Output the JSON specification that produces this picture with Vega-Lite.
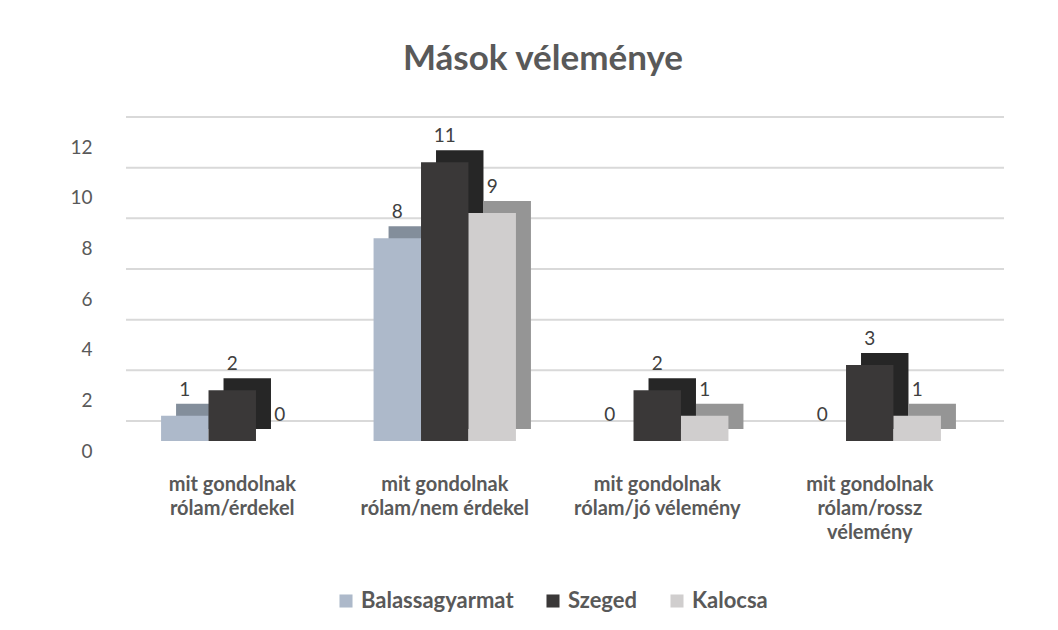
{
  "$schema": "https://vega.github.io/schema/vega-lite/v6.json",
  "width": 850,
  "height": 304,
  "padding": {"left": 69, "top": 42, "right": 10, "bottom": 10},
  "background": "white",
  "title": {
    "text": "Mások véleménye",
    "fontSize": 35,
    "font": "Lato",
    "fontWeight": "bold",
    "color": "#595959",
    "offset": 39,
    "anchor": "middle",
    "dx": -8
  },
  "config": {
    "view": {"stroke": null},
    "font": "Lato",
    "legend": {"layout": {"bottom": {"anchor": "middle"}}}
  },
  "datasets": {
    "bars": [
      {"category": "mit gondolnak|rólam/érdekel", "series": "Balassagyarmat", "value": 1},
      {"category": "mit gondolnak|rólam/érdekel", "series": "Szeged", "value": 2},
      {"category": "mit gondolnak|rólam/érdekel", "series": "Kalocsa", "value": 0},
      {"category": "mit gondolnak|rólam/nem érdekel", "series": "Balassagyarmat", "value": 8},
      {"category": "mit gondolnak|rólam/nem érdekel", "series": "Szeged", "value": 11},
      {"category": "mit gondolnak|rólam/nem érdekel", "series": "Kalocsa", "value": 9},
      {"category": "mit gondolnak|rólam/jó vélemény", "series": "Balassagyarmat", "value": 0},
      {"category": "mit gondolnak|rólam/jó vélemény", "series": "Szeged", "value": 2},
      {"category": "mit gondolnak|rólam/jó vélemény", "series": "Kalocsa", "value": 1},
      {"category": "mit gondolnak|rólam/rossz|vélemény", "series": "Balassagyarmat", "value": 0},
      {"category": "mit gondolnak|rólam/rossz|vélemény", "series": "Szeged", "value": 3},
      {"category": "mit gondolnak|rólam/rossz|vélemény", "series": "Kalocsa", "value": 1}
    ],
    "grid": [{"v": 0}, {"v": 2}, {"v": 4}, {"v": 6}, {"v": 8}, {"v": 10}, {"v": 12}]
  },
  "layer": [
    {
      "data": {"name": "grid"},
      "mark": {"type": "rule", "color": "#d9d9d9", "strokeWidth": 2, "xOffset": 28, "yOffset": -20},
      "encoding": {
        "y": {"field": "v", "type": "quantitative", "scale": {"domain": [0, 12]}}
      }
    },
    {
      "data": {"name": "bars"},
      "mark": {"type": "bar", "yOffset": -12},
      "encoding": {
        "x": {"field": "category", "type": "nominal", "sort": null, "axis": null,
          "scale": {"paddingInner": 0.33, "paddingOuter": 0.165, "range": [15, 865]}},
        "xOffset": {"field": "series", "type": "nominal", "sort": ["Balassagyarmat", "Szeged", "Kalocsa"], "scale": {"padding": 0}},
        "y": {"field": "value", "type": "quantitative"},
        "color": {
          "field": "series", "type": "nominal", "sort": ["Balassagyarmat", "Szeged", "Kalocsa"],
          "scale": {"domain": ["Balassagyarmat", "Szeged", "Kalocsa"], "range": ["#838e9b", "#262626", "#959595"]},
          "legend": null
        }
      }
    },
    {
      "data": {"name": "bars"},
      "mark": {"type": "bar"},
      "encoding": {
        "x": {"field": "category", "type": "nominal", "sort": null, "axis": null,
          "scale": {"paddingInner": 0.33, "paddingOuter": 0.165}},
        "xOffset": {"field": "series", "type": "nominal", "sort": ["Balassagyarmat", "Szeged", "Kalocsa"]},
        "y": {"field": "value", "type": "quantitative"},
        "fill": {
          "field": "series", "type": "nominal", "sort": ["Balassagyarmat", "Szeged", "Kalocsa"],
          "scale": {"domain": ["Balassagyarmat", "Szeged", "Kalocsa"], "range": ["#adb9ca", "#3a3838", "#d0cece"]},
          "legend": {
            "title": null,
            "orient": "bottom",
            "direction": "horizontal",
            "symbolType": "square",
            "symbolSize": 170,
            "symbolStrokeWidth": 0,
            "labelFontSize": 22,
            "labelFontWeight": "bold",
            "labelColor": "#595959",
            "columnPadding": 28,
            "offset": 48
          }
        }
      }
    },
    {
      "data": {"name": "bars"},
      "mark": {"type": "text", "baseline": "bottom", "dy": -16, "fontSize": 19, "color": "#404040"},
      "encoding": {
        "x": {"field": "category", "type": "nominal", "sort": null,
          "scale": {"paddingInner": 0.33, "paddingOuter": 0.165},
          "axis": {
            "title": null,
            "domain": false,
            "ticks": false,
            "labelAngle": 0,
            "labelAlign": "center",
            "labelExpr": "split(datum.label, '|')",
            "labelFontSize": 20,
            "labelFontWeight": "bold",
            "labelColor": "#595959",
            "labelLineHeight": 24,
            "labelPadding": 33,
            "labelLimit": 300
          }
        },
        "xOffset": {"field": "series", "type": "nominal", "sort": ["Balassagyarmat", "Szeged", "Kalocsa"]},
        "y": {"field": "value", "type": "quantitative",
          "axis": {
            "title": null,
            "domain": false,
            "ticks": false,
            "grid": false,
            "values": [0, 2, 4, 6, 8, 10, 12],
            "labelFontSize": 19,
            "labelColor": "#595959",
            "labelPadding": 34,
            "labelOffset": 10
          }
        },
        "text": {"field": "value", "type": "quantitative"}
      }
    }
  ],
  "resolve": {"scale": {"color": "independent", "x": "independent"}}
}
